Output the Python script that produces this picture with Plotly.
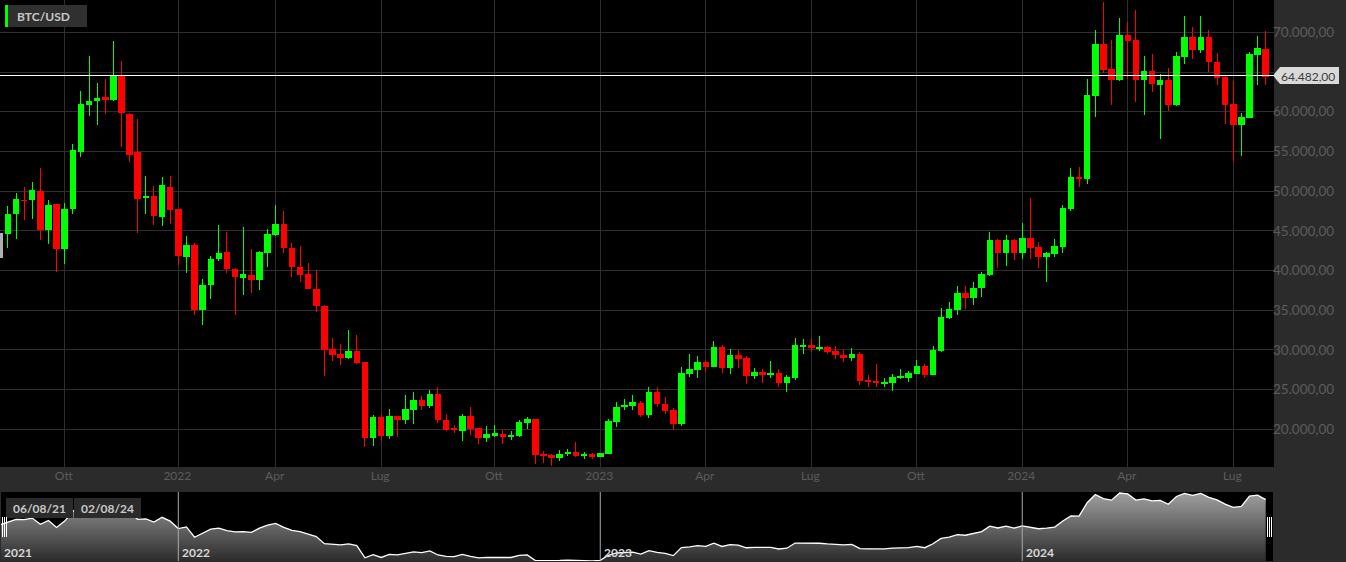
import pandas as pd
import plotly.graph_objects as go

W, H = 1346, 562

# Candele settimanali BTC/USD, venerdi' dal 06/08/21 al 02/08/24
dates = [d.strftime("%Y-%m-%d") for d in pd.date_range("2021-08-06", periods=157, freq="W-FRI")]

# La prima candela (tagliata a sinistra) e' grigia nell'originale
first_ohlc = (41663, 44686, 37550, 44686)

open_ = [
    44644, 47121, 48842, 48926, 49892, 45190, 48339, 42713, 47751, 54971, 60932, 61394, 61814, 61520, 64375, 59673,
    54803, 49177, 49304, 46827, 50396, 47709, 41747, 43091, 35115, 38221, 41454, 42209, 40110, 39144, 39396, 38892,
    42251, 44560, 45819, 42797, 40404, 39438, 37633, 35493, 30073, 29485, 29065, 29863, 28478, 19032, 21509, 19284,
    21593, 21257, 22475, 23650, 22978, 24448, 21131, 20082, 19914, 21677, 20124, 18948, 19284, 19410, 19116, 19242,
    20837, 21299, 16849, 16723, 16513, 16933, 17143, 16723, 16849, 16555, 16975, 21005, 22852, 23062, 23314, 21929,
    24657, 23188, 22390, 20711, 27008, 27554, 28478, 27974, 30367, 27848, 29275, 28940, 26841, 27134, 26925, 27051,
    25875, 26589, 30493, 30577, 30199, 30325, 29821, 29360, 29066, 29443, 26169, 26085, 25833, 25917, 26505, 26589,
    27008, 27974, 26883, 29989, 34103, 35111, 37126, 36622, 37885, 39522, 43720, 42292, 43720, 42208, 43972, 42839,
    41705, 42167, 43049, 47751, 51655, 51613, 62066, 68489, 65256, 63997, 69622, 68908, 64081, 65004, 63451, 63913,
    60848, 66977, 69286, 67775, 69286, 66222, 64249, 60890, 58329, 59295, 67187, 67859,
]
close = [
    47079, 48990, 48757, 50018, 45148, 48212, 42755, 47709, 55139, 60848, 61226, 61688, 61520, 64501, 59883, 54593,
    49052, 49346, 46953, 50647, 47625, 41831, 43175, 35073, 38137, 41370, 42167, 40194, 39186, 39438, 38850, 42209,
    44518, 45819, 42839, 40446, 39480, 37717, 35576, 30073, 29485, 29065, 29863, 28478, 19032, 21509, 19284, 21635,
    21257, 22475, 23650, 23020, 24448, 21215, 20040, 19956, 21677, 20165, 18948, 19326, 19452, 19116, 19242, 20837,
    21299, 16807, 16723, 16513, 16891, 17143, 16765, 16891, 16555, 16975, 20963, 22768, 23020, 23356, 21929, 24657,
    23230, 22390, 20711, 27008, 27512, 28478, 27974, 30367, 27848, 29275, 28940, 26841, 27134, 26925, 27093, 25875,
    26505, 30535, 30619, 30325, 30367, 29821, 29402, 29066, 29443, 26127, 26001, 25875, 25959, 26589, 26631, 27008,
    27974, 26883, 29947, 34103, 35111, 37168, 36622, 37797, 39480, 43720, 42292, 43762, 42208, 43972, 42923, 41705,
    42167, 43007, 47751, 51655, 51529, 62066, 68489, 65298, 64039, 69622, 68950, 64081, 65004, 63493, 63913, 60848,
    66935, 69286, 67775, 69286, 66264, 64291, 60932, 58329, 59211, 67145, 67901, 64482,
]
high = [
    48086, 49724, 50479, 51109, 52872, 48842, 48339, 48464, 55979, 62569, 66977, 63661, 64081, 68867, 66348, 59883,
    59043, 51949, 50689, 51739, 51949, 47709, 44308, 43511, 38892, 41873, 45694, 44854, 40362, 45442, 42671, 42461,
    45190, 48212, 47456, 43427, 43049, 40908, 40027, 35660, 31500, 30745, 32466, 31836, 28478, 21761, 21887, 22517,
    21635, 24280, 24658, 24196, 24951, 25288, 21887, 20586, 21887, 22768, 20124, 20376, 20502, 19956, 19788, 21131,
    21509, 21299, 17227, 16849, 17353, 17479, 18361, 17101, 16975, 17059, 21299, 23398, 23860, 24280, 23524, 25288,
    25288, 24027, 22726, 27805, 29443, 29191, 28730, 31123, 30577, 30073, 29947, 29233, 27680, 27554, 28604, 27554,
    26841, 31459, 31333, 31543, 31795, 30451, 30451, 30031, 30241, 29695, 26841, 28184, 26421, 26967, 27554, 27344,
    28688, 28226, 30493, 35237, 35992, 38049, 38049, 38511, 39774, 44812, 44014, 44434, 44014, 45946, 49094, 43636,
    42293, 43930, 48212, 52872, 53082, 64081, 70252, 73778, 68992, 71763, 71343, 72771, 66977, 67229, 64752, 65550,
    67481, 72057, 70630, 72057, 70252, 67397, 64501, 63871, 59883, 67565, 69496, 70126,
]
low = [
    42881, 44014, 46407, 46533, 43804, 43385, 39858, 40782, 47079, 54257, 59421, 58288, 59673, 61394, 55601, 53628,
    44686, 47079, 45694, 45652, 45820, 40655, 39732, 34401, 33100, 36374, 41244, 39648, 34359, 36962, 37213, 37592,
    40488, 44350, 42167, 39228, 38599, 37717, 34821, 26756, 28645, 28058, 28897, 28226, 17731, 17941, 18570, 18822,
    18990, 20712, 20712, 22391, 22726, 20837, 19830, 19578, 18570, 19326, 18193, 18444, 18990, 18193, 18697, 19074,
    20082, 15674, 15800, 15422, 16052, 16682, 16513, 16303, 16303, 16513, 16975, 20334, 22391, 22475, 21509, 21383,
    22768, 21928, 19913, 20459, 26631, 26505, 27261, 27848, 27135, 27008, 27680, 25749, 26379, 25875, 26505, 25371,
    24742, 26253, 29527, 29779, 29905, 29485, 28898, 28520, 28646, 25623, 25329, 25371, 25371, 24826, 26295, 26001,
    27008, 26505, 26883, 29695, 33935, 34439, 35111, 35698, 36710, 39354, 40278, 40530, 41370, 41496, 41496, 40278,
    38515, 41663, 42251, 47541, 50563, 50941, 59379, 64836, 60806, 63829, 64081, 61268, 59631, 62444, 56524, 60134,
    60722, 65970, 66683, 67355, 64962, 63409, 58498, 53628, 54384, 59295, 63409, 63409,
]

last_price = 64482

y_ticks = [20000, 25000, 30000, 35000, 40000, 45000, 50000, 55000, 60000, 65000, 70000]
# l'etichetta 65.000 sta sotto il box dell'ultimo prezzo
y_tick_labels = ["20.000,00", "25.000,00", "30.000,00", "35.000,00", "40.000,00", "45.000,00",
                 "50.000,00", "55.000,00", "60.000,00", "", "70.000,00"]
x_tick_dates = ["2021-10-01", "2022-01-07", "2022-04-01", "2022-07-01", "2022-10-07", "2023-01-06",
                "2023-04-07", "2023-07-07", "2023-10-06", "2024-01-05", "2024-04-05", "2024-07-05"]
x_tick_labels = ["Ott", "2022", "Apr", "Lug", "Ott", "2023", "Apr", "Lug", "Ott", "2024", "Apr", "Lug"]
year_dates = ["2022-01-07", "2023-01-06", "2024-01-05"]
year_labels = ["2022", "2023", "2024"]

PANEL = "#2b2b2b"
GRID = "#2e2e2e"
LABEL = "#5c5c5c"
GREEN = "#00ff00"
RED = "#ff0000"
FONT = "Lato, 'Open Sans', sans-serif"


def px(x):
    return x / W


def py(y):
    return 1 - y / H


fig = go.Figure()

# Candela iniziale grigia
fig.add_trace(go.Candlestick(
    x=dates[:1], open=[first_ohlc[0]], high=[first_ohlc[1]], low=[first_ohlc[2]], close=[first_ohlc[3]],
    increasing=dict(line=dict(color="#b0b0b0", width=1), fillcolor="#b0b0b0"),
    decreasing=dict(line=dict(color="#b0b0b0", width=1), fillcolor="#b0b0b0"),
    hoverinfo="skip", showlegend=False,
))

# Candele
fig.add_trace(go.Candlestick(
    x=dates[1:], open=open_, high=high, low=low, close=close,
    increasing=dict(line=dict(color=GREEN, width=1), fillcolor=GREEN),
    decreasing=dict(line=dict(color=RED, width=1), fillcolor=RED),
    whiskerwidth=0, hoverinfo="skip", showlegend=False,
))

# Navigatore in basso
fig.add_trace(go.Scatter(
    x=dates, y=[first_ohlc[3]] + close, xaxis="x2", yaxis="y2", mode="lines",
    line=dict(color="#ffffff", width=1.3), fill="tozeroy",
    fillgradient=dict(type="vertical", colorscale=[[0, "#2c2c2c"], [1, "#a0a0a0"]], start=16500, stop=70000),
    hoverinfo="skip", showlegend=False,
))

shapes = [
    # ultimo prezzo
    dict(type="line", xref="paper", yref="y", ysizemode="pixel", yanchor=last_price, x0=0, x1=px(1274),
         y0=0.62, y1=0.62, line=dict(color="#ffffff", width=1)),
    # etichetta prezzo
    dict(type="path", xref="paper", yref="paper", fillcolor="#d9d9d9", line=dict(width=0),
         path=f"M {px(1273)},{py(75.5)} L {px(1280)},{py(67)} L {px(1339)},{py(67)} "
              f"L {px(1339)},{py(84)} L {px(1280)},{py(84)} Z"),
    # etichetta BTC/USD
    dict(type="rect", xref="paper", yref="paper", x0=px(8), x1=px(87), y0=py(5), y1=py(27),
         fillcolor="#303030", line=dict(width=0)),
    dict(type="rect", xref="paper", yref="paper", x0=px(5), x1=px(8), y0=py(5), y1=py(27),
         fillcolor=GREEN, line=dict(width=0)),
    # date del navigatore
    dict(type="rect", xref="paper", yref="paper", x0=px(6), x1=px(73), y0=py(498), y1=py(518),
         fillcolor=PANEL, line=dict(width=0)),
    dict(type="rect", xref="paper", yref="paper", x0=px(74), x1=px(141), y0=py(498), y1=py(518),
         fillcolor=PANEL, line=dict(width=0)),
]

# separatori d'anno nel navigatore
for d in year_dates:
    shapes.append(dict(type="line", xref="x2", yref="paper", x0=d, x1=d, y0=py(561), y1=py(492),
                       line=dict(color="#a8a8a8", width=1)))

# maniglie del navigatore
for sx in [2.5, 4.5, 6.5, 1267.5, 1269.5, 1271.5]:
    shapes.append(dict(type="line", xref="paper", yref="paper", x0=px(sx), x1=px(sx), y0=py(517), y1=py(537),
                       line=dict(color="#ffffff", width=1)))

annotations = [
    dict(text="BTC/USD", xref="paper", yref="paper", x=px(15), y=py(16.5), xanchor="left", yanchor="middle",
         showarrow=False, font=dict(family=FONT, size=12, color="#c8c8c8", weight="bold")),
    dict(text="64.482,00", xref="paper", yref="paper", x=px(1279), y=py(76), xanchor="left", yanchor="middle",
         showarrow=False, font=dict(family=FONT, size=12, color="#3c3c3c")),
    dict(text="06/08/21", xref="paper", yref="paper", x=px(11), y=py(508), xanchor="left", yanchor="middle",
         showarrow=False, font=dict(family=FONT, size=12, color="#c8c8c8", weight="bold")),
    dict(text="02/08/24", xref="paper", yref="paper", x=px(79), y=py(508), xanchor="left", yanchor="middle",
         showarrow=False, font=dict(family=FONT, size=12, color="#c8c8c8", weight="bold")),
    dict(text="2021", xref="paper", yref="paper", x=px(2), y=py(552.5), xanchor="left", yanchor="middle",
         showarrow=False, font=dict(family=FONT, size=12, color="#d8d8d8", weight="bold")),
]
for d, t in zip(year_dates, year_labels):
    annotations.append(dict(text=t, xref="x2", yref="paper", x=d, y=py(552.5), xanchor="left", yanchor="middle",
                            xshift=2, showarrow=False,
                            font=dict(family=FONT, size=12, color="#d8d8d8", weight="bold")))

fig.update_layout(
    width=W, height=H,
    margin=dict(l=0, r=0, t=0, b=0),
    paper_bgcolor=PANEL, plot_bgcolor="#000000",
    boxgap=0.32, boxgroupgap=0,
    font=dict(family=FONT, size=12, color=LABEL),
    showlegend=False,
    xaxis=dict(
        domain=[0, px(1274)], type="category", categoryorder="array", categoryarray=dates,
        range=[0.028, 157.02], rangeslider=dict(visible=False),
        tickmode="array", tickvals=x_tick_dates, ticktext=x_tick_labels, ticks="",
        showgrid=True, gridcolor=GRID, gridwidth=1, zeroline=False, showline=False,
        tickfont=dict(family=FONT, size=12, color=LABEL), ticklabelshift=-1, anchor="y",
    ),
    yaxis=dict(
        domain=[1 - 467 / H, 1], range=[15258, 74068], side="right", anchor="x",
        tickmode="array", tickvals=y_ticks, ticktext=y_tick_labels, ticks="",
        showgrid=True, gridcolor=GRID, gridwidth=1, zeroline=False, showline=False,
        tickfont=dict(family=FONT, size=13.5, color=LABEL), ticklabelstandoff=-2,
    ),
    xaxis2=dict(
        domain=[px(1), px(1273)], type="category", categoryorder="array", categoryarray=dates,
        range=[0.151, 156.9], showticklabels=False, ticks="", showgrid=False, zeroline=False, showline=False,
        anchor="y2",
    ),
    yaxis2=dict(
        domain=[py(561), py(492)], range=[16500, 70400], showticklabels=False, ticks="",
        showgrid=False, zeroline=False, showline=False, anchor="x2",
    ),
    shapes=shapes,
    annotations=annotations,
)

# stoppini netti come nell'originale
post = ("document.body.style.margin='0';document.body.style.overflow='hidden';"
        "document.querySelectorAll('.boxes path').forEach(function(p){p.style.shapeRendering='crispEdges';});")
fig.write_html("out.html", config=dict(displayModeBar=False), post_script=post)
